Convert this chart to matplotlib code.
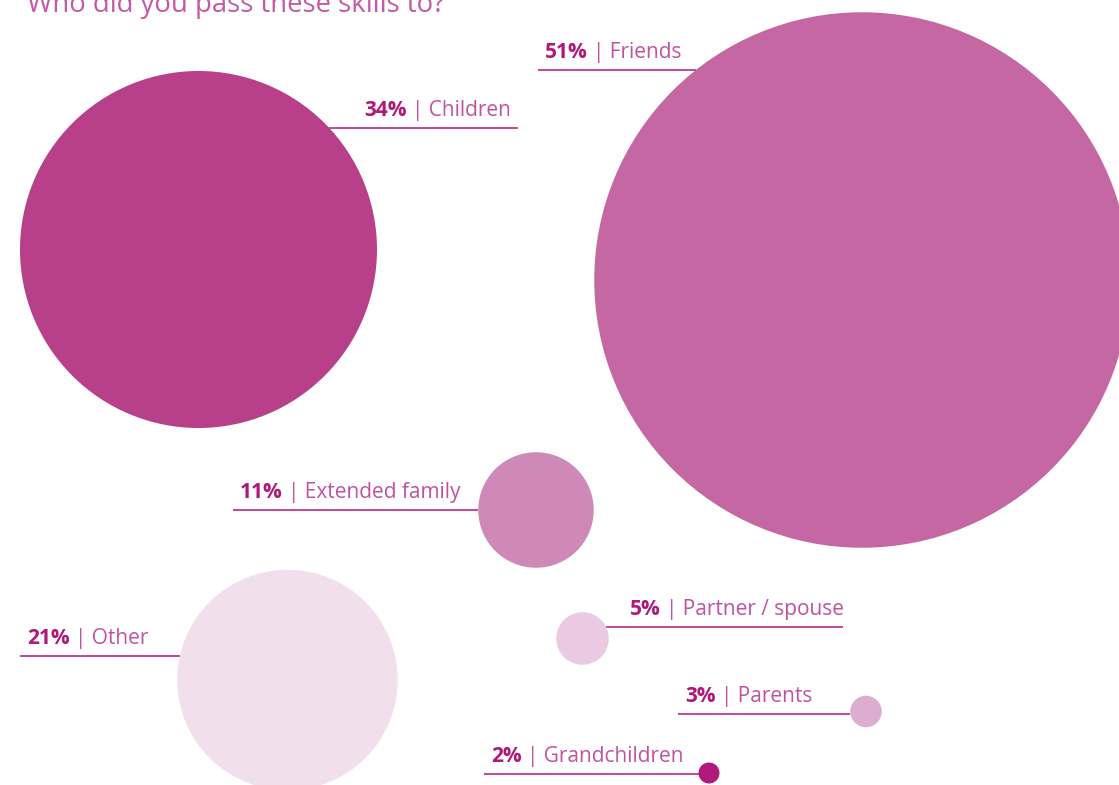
import matplotlib
matplotlib.use("Agg")
import matplotlib.pyplot as plt
from matplotlib.patches import Circle
import numpy as np

# share of respondents who passed skills on to each group (%)
categories = ["Friends", "Children", "Extended family", "Other",
              "Partner / spouse", "Parents", "Grandchildren"]
values = [51, 34, 11, 21, 5, 3, 2]
title = "Who did you pass these skills to?"

# layout: bubble centre (px), leader line y, leader outer x, text alignment
centres = [(862, 280), (198.5, 249.5), (536, 510), (287.5, 680),
           (582.5, 638.5), (866, 711.5), (709, 773)]
line_y = [70, 128, 510, 656, 627, 714, 774]
line_end = [538, 518, 233, 20, 843, 678, 484]
text_align = ["left", "right", "left", "left", "right", "left", "left"]
bubble_colors = ["#c467a3", "#b8408a", "#cf89b8", "#f1dfec",
                 "#e9cae2", "#ddadcf", "#b0187b"]

PX_PER_PCT = 5.25
W, H = 1119, 785
DARK = "#b0177a"
LIGHT = "#c251a0"
LINE = "#b52a88"
FONT = "Open Sans"

fig = plt.figure(figsize=(W / 100, H / 100), dpi=100)
ax = fig.add_axes([0, 0, 1, 1])
ax.set_xlim(0, W)
ax.set_ylim(H, 0)
ax.set_aspect("equal")
ax.axis("off")

for cat, val, (cx, cy), ly, lx, ha, col in zip(
        categories, values, centres, line_y, line_end, text_align, bubble_colors):
    r = val * PX_PER_PCT
    ax.add_patch(Circle((cx, cy), r, facecolor=col, edgecolor="none", zorder=2))

    # leader line runs from the bubble edge out to lx
    dx = np.sqrt(max(r ** 2 - (ly - cy) ** 2, 0))
    edge = cx - dx if lx < cx else cx + dx
    ax.plot([lx, edge], [ly, ly], color=LINE, lw=1.2, zorder=1,
            solid_capstyle="butt")

    base = ly - 12
    pct = f"{val}%"
    rest = f"| {cat}"
    if ha == "left":
        t1 = ax.text(lx + 7, base, pct, fontsize=15, fontweight="bold",
                     color=DARK, family=FONT, ha="left", va="baseline")
        ax.annotate(rest, xy=(1, 0), xycoords=t1, xytext=(4, 0),
                    textcoords="offset points", fontsize=15, color=LIGHT,
                    family=FONT, ha="left", va="bottom")
    else:
        x = lx - 7 if lx < 600 else lx + 1
        t2 = ax.text(x, base, rest, fontsize=15, color=LIGHT,
                     family=FONT, ha="right", va="baseline")
        ax.annotate(pct, xy=(0, 0), xycoords=t2, xytext=(-4, 0),
                    textcoords="offset points", fontsize=15, fontweight="bold",
                    color=DARK, family=FONT, ha="right", va="bottom")

# heading sits partly above the top edge
ax.text(27, 12, title, fontsize=19.8, color="#c45aa3", family=FONT,
        ha="left", va="baseline")

fig.savefig("out.png", dpi=100)
